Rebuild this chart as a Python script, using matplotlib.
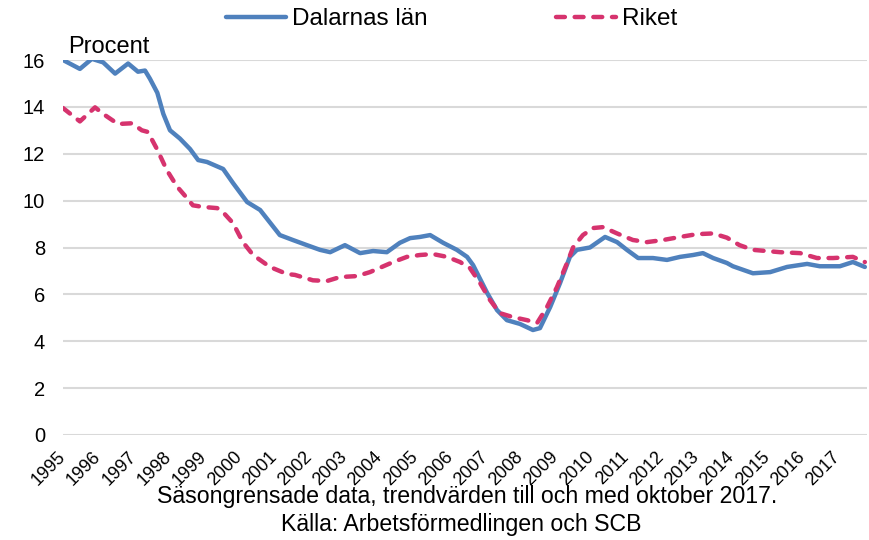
import matplotlib
matplotlib.use("Agg")
import matplotlib.pyplot as plt
import numpy as np

plt.rcParams['font.family'] = ['Liberation Sans', 'DejaVu Sans']

# Time in decimal years
dalarna_t = [1995.00, 1995.48, 1995.82, 1996.14, 1996.48, 1996.85, 1997.13, 1997.33, 1997.47,
             1997.68, 1997.85, 1998.04, 1998.32, 1998.61, 1998.84, 1999.09, 1999.55, 1999.83,
             2000.23, 2000.60, 2001.16, 2001.53, 2001.93, 2002.30, 2002.59, 2003.01, 2003.44,
             2003.81, 2004.20, 2004.57, 2004.86, 2005.14, 2005.43, 2005.80, 2006.19, 2006.48,
             2006.65, 2007.05, 2007.33, 2007.61, 2007.98, 2008.35, 2008.55, 2008.84, 2009.12,
             2009.40, 2009.60, 2009.97, 2010.40, 2010.74, 2011.02, 2011.34, 2011.76, 2012.16,
             2012.53, 2012.90, 2013.18, 2013.47, 2013.86, 2014.03, 2014.60, 2015.09, 2015.57,
             2016.14, 2016.50, 2017.07, 2017.44, 2017.78]
dalarna_v = [16.0, 15.62, 16.05, 15.9, 15.42, 15.85, 15.5, 15.55, 15.2,
             14.6, 13.7, 13.0, 12.65, 12.2, 11.73, 11.65, 11.35, 10.75,
             9.94, 9.6, 8.53, 8.32, 8.1, 7.9, 7.8, 8.1, 7.76,
             7.85, 7.8, 8.2, 8.4, 8.45, 8.53, 8.2, 7.9, 7.6,
             7.25, 6.06, 5.33, 4.9, 4.74, 4.48, 4.56, 5.46, 6.48,
             7.6, 7.9, 8.0, 8.45, 8.23, 7.9, 7.55, 7.55, 7.47,
             7.6, 7.68, 7.76, 7.55, 7.34, 7.2, 6.9, 6.95, 7.17,
             7.3, 7.2, 7.2, 7.38, 7.17]

riket_t = [1995.00, 1995.48, 1995.91, 1996.14, 1996.56, 1996.96, 1997.24, 1997.41, 1997.67,
           1997.95, 1998.24, 1998.47, 1998.69, 1998.98, 1999.38, 1999.55, 1999.83, 2000.11,
           2000.40, 2000.88, 2001.36, 2001.59, 2002.10, 2002.50, 2002.87, 2003.35, 2003.72,
           2004.38, 2004.77, 2005.14, 2005.51, 2005.91, 2006.28, 2006.56, 2006.85, 2007.13,
           2007.41, 2007.78, 2008.18, 2008.47, 2008.75, 2009.03, 2009.32, 2009.49, 2009.77,
           2010.06, 2010.34, 2010.74, 2011.19, 2011.59, 2012.05, 2012.53, 2013.01, 2013.47,
           2013.86, 2014.22, 2014.60, 2015.37, 2015.94, 2016.42, 2016.88, 2017.44, 2017.78]
riket_v = [13.95, 13.38, 13.98, 13.7, 13.27, 13.3, 13.0, 12.93, 12.2,
           11.3, 10.6, 10.2, 9.8, 9.73, 9.68, 9.5, 9.04, 8.23,
           7.68, 7.17, 6.87, 6.83, 6.6, 6.57, 6.74, 6.78, 6.95,
           7.38, 7.6, 7.68, 7.72, 7.6, 7.38, 7.12, 6.48, 5.76,
           5.2, 5.03, 4.9, 4.78, 5.46, 6.3, 7.34, 8.0, 8.53,
           8.83, 8.87, 8.6, 8.32, 8.23, 8.32, 8.45, 8.57, 8.6,
           8.42, 8.1, 7.9, 7.8, 7.76, 7.55, 7.55, 7.6, 7.38]

years = list(range(1995, 2018))
year_labels = [str(y) for y in years]
y_ticks = [0, 2, 4, 6, 8, 10, 12, 14, 16]

series_names = ['Dalarnas län', 'Riket']
blue = '#4F81BD'
red = '#D6336E'

fig = plt.figure(figsize=(8.69, 5.40), dpi=100)
ax = fig.add_axes([63/869, 1-435/540, (867-63)/869, (435-60)/540])

ax.plot(dalarna_t, dalarna_v, color=blue, lw=3.2, solid_joinstyle='round',
        solid_capstyle='round', label=series_names[0], zorder=3)
ax.plot(riket_t, riket_v, color=red, lw=3.2, dashes=(2.0, 2.2),
        dash_capstyle='round', dash_joinstyle='round', label=series_names[1], zorder=4)

ax.set_xlim(1995, 1995 + (867-63)/35.2)
ax.set_ylim(0, 16)
ax.set_yticks(y_ticks)
ax.set_yticklabels([str(v) for v in y_ticks], fontsize=14.5)
ax.set_xticks(years)
ax.set_xticklabels(year_labels, fontsize=13, rotation=45, ha='right', va='center',
                   rotation_mode='anchor')
ax.tick_params(axis='both', length=0)
ax.tick_params(axis='y', pad=13)
ax.tick_params(axis='x', pad=14)
ax.grid(axis='y', color='#D9D9D9', lw=1.5)
ax.set_axisbelow(True)
for s in ax.spines.values():
    s.set_visible(False)

ax.text(0.006, 1.005, 'Procent', transform=ax.transAxes, fontsize=17, ha='left', va='bottom')

fig.legend(loc='upper center', bbox_to_anchor=(0.52, 1.025), ncol=2, frameon=False,
           fontsize=17.5, handlelength=2.45, handletextpad=0.25, columnspacing=5.3)

fig.text(467/869, 1-497/540, 'Säsongrensade data, trendvärden till och med oktober 2017.',
         ha='center', va='center', fontsize=16.7)
fig.text(461/869, 1-525/540, 'Källa: Arbetsförmedlingen och SCB',
         ha='center', va='center', fontsize=16.7)

fig.savefig('out.png', dpi=100)
